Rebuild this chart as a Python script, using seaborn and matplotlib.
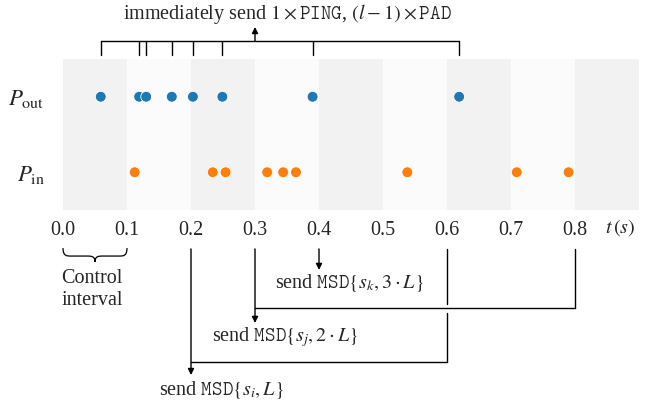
import pandas as pd
import matplotlib
matplotlib.use("Agg")
import matplotlib.pyplot as plt
from matplotlib.path import Path
from matplotlib.patches import PathPatch
import seaborn as sns

# packet times in seconds
t_out = [0.059, 0.119, 0.130, 0.170, 0.203, 0.249, 0.390, 0.619]
t_in = [0.112, 0.234, 0.254, 0.319, 0.344, 0.364, 0.538, 0.709, 0.790]
rows = [r"$P_{\rm out}$", r"$P_{\rm in}$"]
colors = ["#1f77b4", "#ff7f0e"]

ticks = [0.0, 0.1, 0.2, 0.3, 0.4, 0.5, 0.6, 0.7, 0.8]
interval = 0.1
n_intervals = 9

# MSD sends: arrow down at send_at, optional feed line coming from send_from
send_at = [0.2, 0.3, 0.4]
send_from = [0.6, 0.8, None]
send_labels = [r"send $\mathtt{MSD}\{s_i,L\}$",
               r"send $\mathtt{MSD}\{s_j,2\cdot L\}$",
               r"send $\mathtt{MSD}\{s_k,3\cdot L\}$"]
ping_arrow_at = 0.3
top_label = r"immediately send $1\times\mathtt{PING}$, $(l-1)\times\mathtt{PAD}$"

df = pd.DataFrame({
    "t": t_out + t_in,
    "row": [rows[0]] * len(t_out) + [rows[1]] * len(t_in),
})

sns.set_style("white")
plt.rcParams["font.family"] = ["Liberation Serif", "DejaVu Serif"]
plt.rcParams["mathtext.fontset"] = "stix"

fs = 14.5

fig = plt.figure(figsize=(6.49, 4.04), dpi=100)
ax = fig.add_axes([63 / 649, 1 - 210 / 404, 576 / 649, 151 / 404])

# alternating control interval bands
for i in range(n_intervals):
    ax.axvspan(i * interval, (i + 1) * interval,
               color="#f2f2f2" if i % 2 == 0 else "#fbfbfb", lw=0, zorder=0)

sns.stripplot(data=df, x="t", y="row", hue="row", palette=colors,
              jitter=False, size=7.8, linewidth=0.6, edgecolor="white",
              legend=False, ax=ax)

ax.set_xlim(0, 0.9)
ax.set_ylim(1.5, -0.5)
sns.despine(ax=ax, left=True, bottom=True)
ax.set_xlabel("")
ax.set_ylabel("")
ax.set_xticks(ticks)
ax.set_xticklabels([f"{v:.1f}" for v in ticks])
ax.tick_params(axis="x", length=0, pad=8.0, labelsize=fs)
ax.tick_params(axis="y", length=0, pad=13, labelsize=16.5)

trans = ax.get_xaxis_transform()
line_kw = dict(color="black", lw=1.0, transform=trans, clip_on=False)
arrow_kw = dict(arrowstyle="-|>", color="black", lw=1.0,
                shrinkA=0, shrinkB=0, mutation_scale=9)

# top bracket over the outgoing packets
ax.plot([t_out[0], t_out[-1]], [1.119, 1.119], **line_kw)
for t in t_out:
    ax.plot([t, t], [1.026, 1.119], **line_kw)
ax.annotate("", xy=(ping_arrow_at, 1.212), xytext=(ping_arrow_at, 1.119),
            xycoords=trans, textcoords=trans, arrowprops=arrow_kw)
ax.text(0.35, 1.30, top_label, transform=trans, ha="center", va="center",
        fontsize=fs)

ax.text(0.87, -0.119, r"$t\,(s)$", transform=trans, ha="center",
        va="center", fontsize=fs)

# curly brace under the first control interval
x0, x1 = 0.0, interval
xm = (x0 + x1) / 2
ytop, ymid, ybot = -0.252, -0.305, -0.344
q = 0.012
verts = [(x0, ytop), (x0, ymid), (x0 + q / 2, ymid), (x0 + q, ymid),
         (xm - q, ymid),
         (xm - q / 2, ymid), (xm, ymid), (xm, ybot),
         (xm, ymid), (xm + q / 2, ymid), (xm + q, ymid),
         (x1 - q, ymid),
         (x1 - q / 2, ymid), (x1, ymid), (x1, ytop)]
codes = [Path.MOVETO, Path.CURVE4, Path.CURVE4, Path.CURVE4,
         Path.LINETO,
         Path.CURVE4, Path.CURVE4, Path.CURVE4,
         Path.CURVE4, Path.CURVE4, Path.CURVE4,
         Path.LINETO,
         Path.CURVE4, Path.CURVE4, Path.CURVE4]
ax.add_patch(PathPatch(Path(verts, codes), fc="none", ec="black", lw=0.9,
                       transform=trans, clip_on=False))
ax.text(xm - 0.005, -0.525, "Control\ninterval", transform=trans,
        ha="center", va="center", fontsize=fs, linespacing=1.2)

# MSD send arrows
y_start = -0.258
elbow_y = [-1.007, -0.649, None]
tip_y = [-1.093, -0.748, -0.397]
label_y = [-1.192, -0.841, -0.483]
for t, src, ey, ty, ly, lab in zip(send_at, send_from, elbow_y, tip_y,
                                   label_y, send_labels):
    if src is not None:
        if src == 0.6:
            # broken where it crosses the 0.8 -> 0.3 line
            ax.plot([src, src], [y_start, -0.623], **line_kw)
            ax.plot([src, src], [-0.682, ey], **line_kw)
        else:
            ax.plot([src, src], [y_start, ey], **line_kw)
        ax.plot([src, t], [ey, ey], **line_kw)
    ax.annotate("", xy=(t, ty), xytext=(t, y_start), xycoords=trans,
                textcoords=trans, arrowprops=arrow_kw)
    ax.text(t + 0.047, ly, lab, transform=trans, ha="center", va="center",
            fontsize=fs)

fig.savefig("out.png", dpi=100)
